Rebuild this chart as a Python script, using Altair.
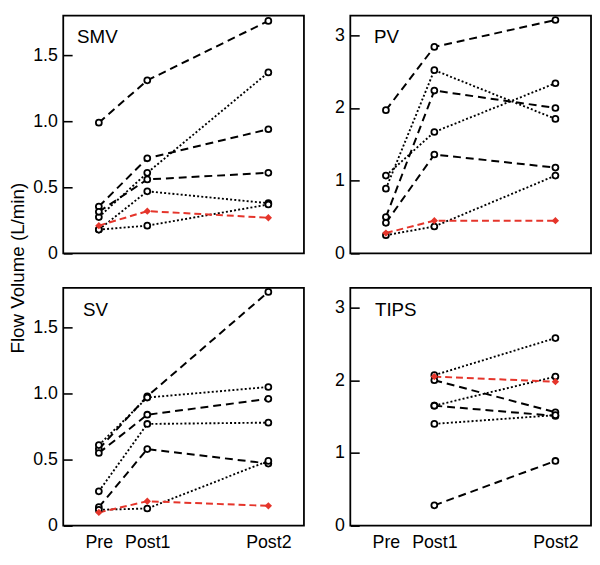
import altair as alt
import pandas as pd

FONT = "Liberation Sans"
RED = "#e5352b"

PANELS = ["SMV", "PV", "SV", "TIPS"]
TIME_LABELS = ["Pre", "Post1", "Post2"]
TIME_POS = [1.0, 2.0, 4.5]

# series style: "dash" = black dashed, "dot" = black dotted, "red" = red dashed
SMV_STYLE = ["dash", "dot", "dash", "dash", "dot", "dot", "red"]
SMV_PRE = [0.99, 0.275, 0.355, 0.315, 0.18, 0.18, 0.21]
SMV_POST1 = [1.31, 0.61, 0.72, 0.56, 0.47, 0.21, 0.32]
SMV_POST2 = [1.76, 1.37, 0.94, 0.61, 0.38, 0.37, 0.27]

PV_STYLE = ["dash", "dot", "dash", "dot", "dash", "dot", "red"]
PV_PRE = [1.97, 0.89, 0.50, 1.07, 0.42, 0.25, 0.28]
PV_POST1 = [2.84, 2.52, 2.24, 1.67, 1.36, 0.37, 0.45]
PV_POST2 = [3.21, 1.85, 2.00, 2.34, 1.18, 1.07, 0.45]

SV_STYLE = ["dash", "dot", "dash", "dot", "dash", "dot", "red"]
SV_PRE = [0.58, 0.61, 0.55, 0.26, 0.14, 0.12, 0.10]
SV_POST1 = [0.98, 0.97, 0.84, 0.77, 0.58, 0.13, 0.185]
SV_POST2 = [1.77, 1.05, 0.96, 0.78, 0.47, 0.49, 0.15]

TIPS_STYLE = ["dot", "red", "dash", "dot", "dash", "dot", "dash"]
TIPS_PRE = [None, None, None, None, None, None, None]
TIPS_POST1 = [2.07, 2.05, 2.00, 1.65, 1.65, 1.40, 0.28]
TIPS_POST2 = [2.58, 1.98, 1.56, 2.05, 1.51, 1.52, 0.89]

Y_DOMAIN_LOW = [0, 1.8]
Y_DOMAIN_HIGH = [0, 3.27]
Y_TICKS_LOW = [0, 0.5, 1.0, 1.5]
Y_TICKS_HIGH = [0, 1, 2, 3]

Y_TITLE = "Flow Volume (L/min)"

W, H = 244, 241
ROW_GAP, COL_GAP = 35, 47


def panel_df(style, pre, p1, p2):
    rows = []
    for i, s in enumerate(style):
        for pos, v in zip(TIME_POS, [pre[i], p1[i], p2[i]]):
            if v is None:
                continue
            rows.append({"series": i, "style": s, "t": pos, "v": v})
    return pd.DataFrame(rows)


x_label_expr = " : ".join(
    [f"datum.value == {p} ? '{l}'" for p, l in zip(TIME_POS[:-1], TIME_LABELS[:-1])]
) + f" : '{TIME_LABELS[-1]}'"


def make_panel(name, df, ydom, yticks, show_x, show_title, label_dx):
    if show_x:
        x_axis = alt.Axis(
            values=TIME_POS, labelExpr=x_label_expr, ticks=False, domain=False,
            grid=False, labelFontSize=18, labelFont=FONT, labelColor="black",
            labelPadding=8, title=None,
        )
    else:
        x_axis = None
    # inward ticks: a negative tick size (given as an expression) draws the
    # ticks inside the frame; label padding compensates for the label offset
    y_kwargs = dict(
        values=yticks,
        labelExpr="datum.value == 0 ? '0' : format(datum.value, '"
        + (".1f" if ydom[1] < 2 else "d") + "')",
        ticks=True, tickSize=alt.ExprRef(expr="-9"), tickWidth=1.6,
        tickColor="black", tickOpacity=1,
        domain=False, grid=False, labelFontSize=18, labelFont=FONT,
        labelColor="black", labelPadding=15, minExtent=33, maxExtent=33,
    )
    if show_title:
        y_axis = alt.Axis(
            title=Y_TITLE, titleFontSize=19, titleFont=FONT, titleFontWeight="normal",
            titleColor="black", titlePadding=3, titleY=H + ROW_GAP / 2 - 3, **y_kwargs,
        )
    else:
        y_axis = alt.Axis(title=None, **y_kwargs)

    yscale = alt.Scale(domain=ydom, nice=False, zero=False)
    x_enc = alt.X("t:Q", scale=alt.Scale(domain=[0.265, 5.235], nice=False, zero=False), axis=x_axis)
    y_enc = alt.Y("v:Q", scale=yscale, axis=y_axis)

    base = alt.Chart(df).encode(x=x_enc, y=y_enc, detail="series:N")
    dash = base.transform_filter(alt.datum.style == "dash").mark_line(
        color="black", strokeDash=[8, 5], strokeWidth=2)
    dot = base.transform_filter(alt.datum.style == "dot").mark_line(
        color="black", strokeDash=[2, 2.2], strokeWidth=1.9)
    red = base.transform_filter(alt.datum.style == "red").mark_line(
        color=RED, strokeDash=[7, 4], strokeWidth=2)
    pts = base.transform_filter(alt.datum.style != "red").mark_point(
        shape="circle", filled=True, fill="white", stroke="black", strokeWidth=1.8,
        size=36, opacity=1)
    rpts = base.transform_filter(alt.datum.style == "red").mark_point(
        shape="diamond", filled=True, color=RED, size=55, opacity=1)

    label = alt.Chart(pd.DataFrame({"name": [name]})).mark_text(
        align="left", baseline="alphabetic", fontSize=19, font=FONT, color="black"
    ).encode(text="name:N", x=alt.value(label_dx), y=alt.value(28))

    return alt.layer(dash, dot, red, pts, rpts, label).properties(width=W, height=H)


smv = make_panel("SMV", panel_df(SMV_STYLE, SMV_PRE, SMV_POST1, SMV_POST2),
                 Y_DOMAIN_LOW, Y_TICKS_LOW, False, True, 14)
pv = make_panel("PV", panel_df(PV_STYLE, PV_PRE, PV_POST1, PV_POST2),
                Y_DOMAIN_HIGH, Y_TICKS_HIGH, False, False, 24)
sv = make_panel("SV", panel_df(SV_STYLE, SV_PRE, SV_POST1, SV_POST2),
                Y_DOMAIN_LOW, Y_TICKS_LOW, True, False, 20)
tips = make_panel("TIPS", panel_df(TIPS_STYLE, TIPS_PRE, TIPS_POST1, TIPS_POST2),
                  Y_DOMAIN_HIGH, Y_TICKS_HIGH, True, False, 25)

chart = alt.concat(
    smv, pv, sv, tips, columns=2,
    spacing={"row": ROW_GAP, "column": COL_GAP}, bounds="flush",
).properties(padding=0).configure_view(stroke="black", strokeWidth=1.8)

chart.save("out.html", embed_options={"renderer": "svg", "actions": False})
